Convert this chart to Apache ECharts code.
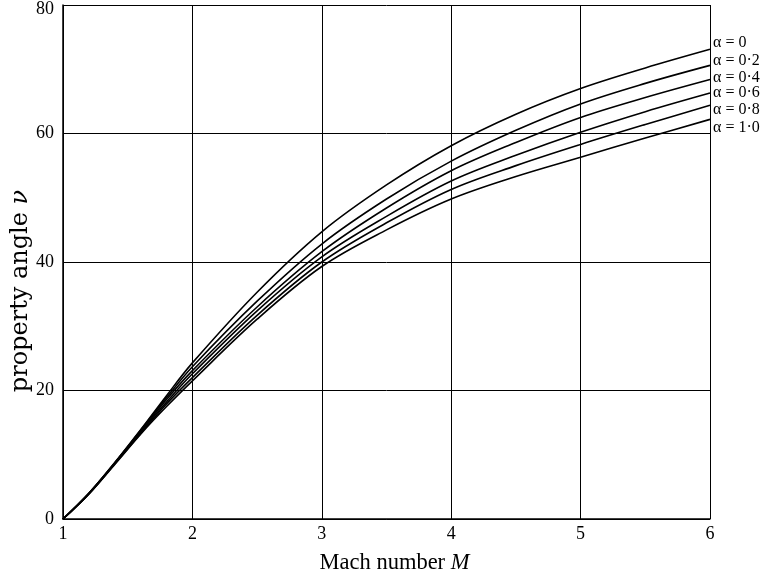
<!DOCTYPE html>
<html>
<head>
<meta charset="utf-8">
<script src="https://cdn.jsdelivr.net/npm/echarts@6/dist/echarts.min.js"></script>
<style>html,body{margin:0;padding:0;background:#fff}#c{width:766px;height:574px}</style>
</head>
<body>
<div id="c"></div>
<script>
const mach = [1, 1.2, 1.4, 1.6, 1.8, 2, 2.5, 3, 3.5, 4, 4.5, 5, 5.5, 6];
const alphaLabels = ['α = 0', 'α = 0·2', 'α = 0·4', 'α = 0·6', 'α = 0·8', 'α = 1·0'];
const nuA00 = [0, 4.0, 8.8, 13.9, 19.2, 24.3, 35.3, 44.7, 52.0, 58.1, 63.0, 67.0, 70.2, 73.1];
const nuA02 = [0, 4.0, 8.7, 13.8, 18.9, 23.7, 33.9, 42.8, 49.8, 55.7, 60.5, 64.6, 67.8, 70.6];
const nuA04 = [0, 4.0, 8.7, 13.6, 18.6, 23.1, 33.0, 41.6, 48.4, 54.2, 58.6, 62.5, 65.6, 68.4];
const nuA06 = [0, 3.9, 8.6, 13.5, 18.2, 22.6, 32.4, 40.8, 47.1, 52.6, 56.6, 60.2, 63.4, 66.3];
const nuA08 = [0, 3.9, 8.6, 13.3, 17.9, 22.0, 31.7, 40.0, 46.1, 51.3, 55.0, 58.3, 61.4, 64.4];
const nuA10 = [0, 3.9, 8.5, 13.2, 17.5, 21.5, 31.1, 39.3, 45.0, 49.8, 53.3, 56.3, 59.3, 62.2];
const xTicks = [1, 2, 3, 4, 5, 6];
const yTicks = [0, 20, 40, 60, 80];

const seriesData = [nuA00, nuA02, nuA04, nuA06, nuA08, nuA10];
const labelOffsets = [[3, -7], [3, -5], [3, -2], [3, 0], [3, 5], [3, 8]];
const FONT = '"Liberation Serif", "DejaVu Serif", serif';
const FONT_WIDE = '"DejaVu Serif", "Liberation Serif", serif';
const yMax = yTicks[yTicks.length - 1];

const chart = echarts.init(document.getElementById('c'));
chart.setOption({
  animation: false,
  backgroundColor: '#fff',
  grid: { left: 63, right: 56, top: 5, bottom: 55, containLabel: false, outerBoundsMode: 'none' },
  xAxis: {
    type: 'value', min: xTicks[0], max: xTicks[xTicks.length - 1], interval: 1,
    name: '{a|Mach number }{i|M}', nameLocation: 'middle', nameGap: 33,
    nameTextStyle: { padding: [0, 0, 0, 16], rich: {
      a: { fontFamily: FONT, fontSize: 22.5, color: '#000' },
      i: { fontFamily: FONT, fontSize: 22.5, fontStyle: 'italic', color: '#000' } } },
    axisLine: { show: true, lineStyle: { color: '#000', width: 1.5 } },
    axisTick: { show: false },
    axisLabel: { fontFamily: FONT, fontSize: 18, color: '#000', margin: 6 },
    splitLine: { show: true, lineStyle: { color: '#000', width: 1 } }
  },
  yAxis: {
    type: 'value', min: yTicks[0], max: yMax, interval: 20,
    name: '{a|property angle }{i|ν}', nameLocation: 'middle', nameGap: 30, nameRotate: 90,
    nameMoveOverlap: false,
    nameTextStyle: { padding: [0, 58, 0, 0], rich: {
      a: { fontFamily: FONT_WIDE, fontSize: 24, color: '#000' },
      i: { fontFamily: FONT_WIDE, fontSize: 24, fontStyle: 'italic', color: '#000' } } },
    axisLine: { show: true, lineStyle: { color: '#000', width: 1.5 } },
    axisTick: { show: false },
    axisLabel: {
      fontFamily: FONT, fontSize: 18, color: '#000', margin: 9,
      formatter: v => (v === yMax ? '{t|' + v + '}' : String(v)),
      rich: { t: { fontFamily: FONT, fontSize: 18, color: '#000', padding: [8, 0, 0, 0] } }
    },
    splitLine: { show: true, lineStyle: { color: '#000', width: 1 } }
  },
  series: seriesData.map((d, i) => ({
    type: 'line',
    name: alphaLabels[i],
    data: mach.map((m, j) => [m, d[j]]),
    smooth: 0.35,
    showSymbol: false,
    symbol: 'none',
    lineStyle: { color: '#000', width: 1.6 },
    endLabel: {
      show: true,
      formatter: alphaLabels[i],
      fontFamily: FONT, fontSize: 16, color: '#000',
      offset: labelOffsets[i], distance: 0
    }
  }))
});
</script>
</body>
</html>
